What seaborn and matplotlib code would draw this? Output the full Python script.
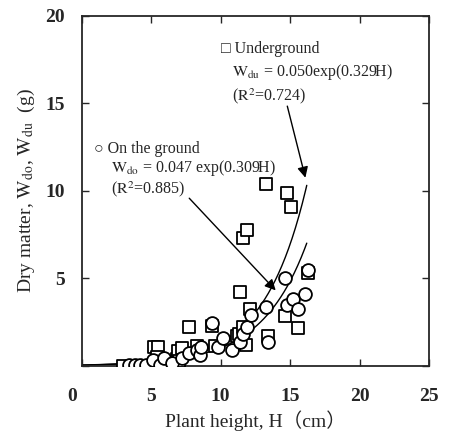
import numpy as np
import pandas as pd
import seaborn as sns
import matplotlib.pyplot as plt

# ── data ─────────────────────────────────────────────────────────────────
ground_h = [3.4, 3.8, 4.2, 4.6, 5.1, 5.6, 5.9, 6.5, 7.2, 7.7, 8.3, 8.5, 8.6,
            9.4, 9.8, 10.2, 10.8, 11.4, 11.6, 11.9, 12.2, 13.3, 13.4, 14.6,
            14.75, 15.2, 15.6, 16.1, 16.3]
ground_w = [0.05, 0.05, 0.05, 0.05, 0.35, 0.05, 0.45, 0.15, 0.45, 0.75, 0.9,
            0.6, 1.1, 2.45, 1.1, 1.6, 0.9, 1.35, 1.85, 2.25, 2.9, 3.35, 1.35,
            5.05, 3.5, 3.85, 3.25, 4.1, 5.5]

under_h = [3.0, 5.2, 5.5, 5.4, 5.9, 6.85, 6.9, 7.0, 7.2, 7.7, 8.3, 9.4, 9.6,
           11.2, 11.3, 11.4, 11.6, 11.6, 11.8, 12.1, 11.9, 13.25, 13.4, 14.6,
           14.75, 15.1, 15.6, 16.3]
under_w = [0.0, 1.1, 1.1, 0.5, 0.1, 0.4, 0.85, 0.3, 1.05, 2.25, 1.15, 2.3,
           1.15, 1.7, 1.8, 4.2, 2.2, 7.3, 1.2, 3.25, 7.75, 10.4, 1.7, 2.85,
           9.9, 9.1, 2.15, 5.3]

# fitted curves printed on the chart
fit_a = {"ground": 0.047, "under": 0.050}
fit_b = {"ground": 0.309, "under": 0.329}
h_max = 16.2

x_ticks = [0, 5, 10, 15, 20, 25]
x_labels = ["", "5", "10", "15", "20", "25"]
y_ticks = [0, 5, 10, 15, 20]
y_labels = ["", "5", "10", "15", "20"]

sns.set_style("ticks")
plt.rcParams["font.family"] = ["Liberation Serif", "Noto Sans CJK JP", "DejaVu Sans"]
plt.rcParams["mathtext.fontset"] = "stix"

df_g = pd.DataFrame({"H": ground_h, "W": ground_w})
df_u = pd.DataFrame({"H": under_h, "W": under_w})

hh = np.linspace(0, h_max, 200)
df_fit = pd.concat([
    pd.DataFrame({"H": hh, "W": fit_a[k] * np.exp(fit_b[k] * hh), "part": k})
    for k in ("ground", "under")
])

fig = plt.figure(figsize=(4.52, 4.43), dpi=100)
ax = fig.add_axes([0.181, 0.174, 0.768, 0.79])

sns.lineplot(data=df_fit, x="H", y="W", units="part", estimator=None,
             color="black", lw=1.0, ax=ax)
sns.scatterplot(data=df_u, x="H", y="W", marker="s", s=75,
                facecolor="white", edgecolor="black", linewidth=1.3, ax=ax, zorder=3)
sns.scatterplot(data=df_g, x="H", y="W", marker="o", s=85,
                facecolor="white", edgecolor="black", linewidth=1.3, ax=ax, zorder=4)

ax.set_xlim(0, 25)
ax.set_ylim(0, 20)
ax.set_xticks(x_ticks)
ax.set_xticklabels(x_labels)
ax.set_yticks(y_ticks)
ax.set_yticklabels(y_labels)
ax.tick_params(direction="in", top=True, right=True, length=5, width=1,
               labelsize=14)
ax.tick_params(axis="x", pad=16)
ax.tick_params(axis="y", pad=12)
for lbl in ax.get_xticklabels() + ax.get_yticklabels():
    lbl.set_fontweight("bold")
for sp in ax.spines.values():
    sp.set_linewidth(1.3)
    sp.set_visible(True)

# shared origin label, set off to the lower left
fig.text(0.159, 0.104, "0", fontsize=14, fontweight="bold", ha="center", va="center")

ax.set_xlabel("Plant height, H（cm）", fontsize=14, labelpad=4)
ax.set_ylabel(r"Dry matter, $\mathrm{W_{do}}$, $\mathrm{W_{du}}$  (g)",
              fontsize=14, labelpad=6)

# annotations
ax.text(10.0, 18.1, "□ Underground", fontsize=11.5, va="center")
ax.text(10.8, 16.8, r"$\mathrm{W_{du}}$ = 0.050exp(0.329H)", fontsize=11.5, va="center")
ax.text(10.8, 15.4, r"($\mathrm{R^2}$=0.724)", fontsize=11.5, va="center")
ax.annotate("", xy=(16.15, 10.6), xytext=(14.75, 15.0),
            arrowprops=dict(arrowstyle="-|>", color="black", lw=1.0,
                            mutation_scale=16))

ax.text(0.9, 12.4, "○ On the ground", fontsize=11.5, va="center")
ax.text(2.1, 11.3, r"$\mathrm{W_{do}}$ = 0.047 exp(0.309H)", fontsize=11.5, va="center")
ax.text(2.1, 10.1, r"($\mathrm{R^2}$=0.885)", fontsize=11.5, va="center")
ax.annotate("", xy=(14.1, 4.2), xytext=(7.6, 9.7),
            arrowprops=dict(arrowstyle="-|>", color="black", lw=1.0,
                            mutation_scale=16))

fig.savefig("out.png", dpi=100)
